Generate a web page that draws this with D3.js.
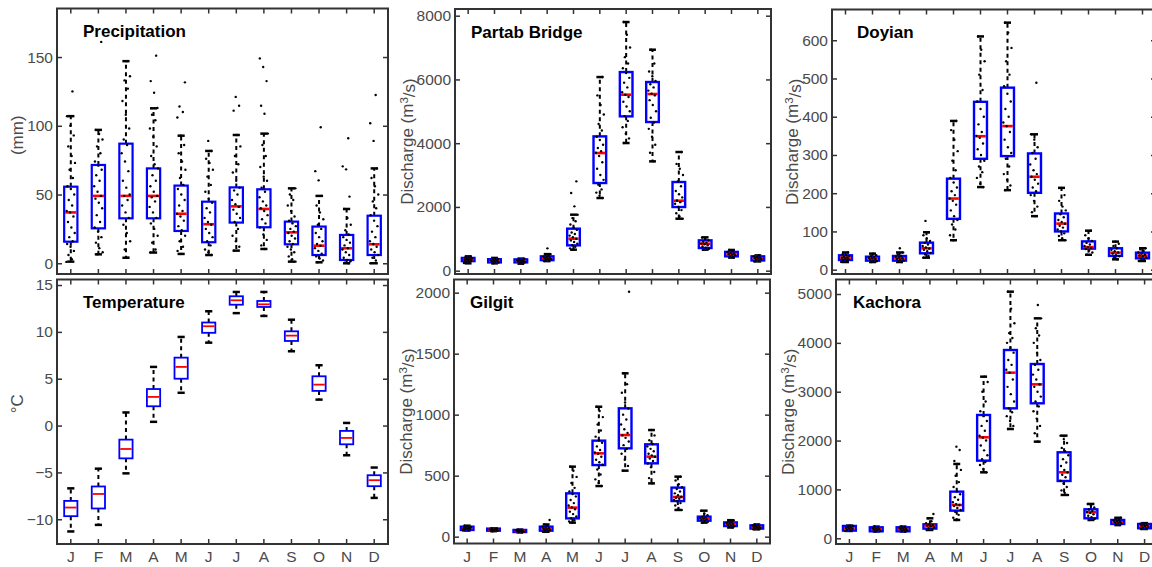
<!DOCTYPE html>
<html>
<head>
<meta charset="utf-8">
<script src="https://cdn.jsdelivr.net/npm/d3@7"></script>
<style>
  body { margin: 0; background: #fff; }
  svg { display: block; font-family: "Liberation Sans", Arial, Helvetica, sans-serif; }
</style>
</head>
<body>
<div id="viz"></div>
<script>
const width = 1152;
const height = 567;

const months = ['J', 'F', 'M', 'A', 'M', 'J', 'J', 'A', 'S', 'O', 'N', 'D'];

// box stats per month: [whisker low, q1, median, q3, whisker high]
const precipBox = [
  [1.2, 15.7, 37, 55.7, 107], [6.5, 25.4, 49, 71.5, 97], [4, 32.7, 49, 87, 147],
  [7.8, 32.7, 49, 69, 112.7], [6.8, 23.5, 36, 56.5, 92.8], [6, 15.3, 28.4, 44.8, 81.7],
  [9.2, 29.6, 41.4, 55.2, 93.3], [10.4, 26.2, 39.5, 53.8, 94.3], [1.2, 13.8, 22.5, 30.3, 54.5],
  [0.7, 6, 12.8, 26.7, 49], [0, 2.4, 10.9, 20.6, 39.5], [0, 6, 13.8, 34.6, 69]
];
const tempBox = [
  [-11.3, -9.67, -8.75, -8.04, -6.7], [-10.6, -8.85, -7.3, -6.5, -4.6], [-5.1, -3.5, -2.5, -1.5, 1.4],
  [0.4, 2.06, 3.06, 3.9, 6.26], [3.5, 5.0, 6.26, 7.25, 9.46], [8.85, 9.9, 10.6, 11.0, 12.2],
  [12.0, 12.9, 13.37, 13.8, 14.26], [11.7, 12.66, 12.94, 13.3, 14.26], [7.93, 9.03, 9.6, 10.06, 11.3],
  [2.77, 3.7, 4.37, 5.26, 6.44], [-3.17, -2.0, -1.32, -0.57, 0.28], [-7.72, -6.47, -5.83, -5.3, -4.48]
];
const partabBox = [
  [230, 300, 350, 400, 450], [230, 260, 310, 360, 400], [220, 260, 305, 355, 380],
  [300, 330, 385, 450, 520], [659, 795, 1004, 1318, 1757], [2280, 2750, 3691, 4214, 6075],
  [4005, 4842, 5521, 6232, 7801], [3430, 4664, 5542, 5919, 6933], [1631, 1997, 2196, 2782, 3723],
  [659, 711, 847, 952, 1046], [410, 450, 523, 590, 650], [290, 320, 387, 450, 480]
];
const doyianBox = [
  [20, 25.3, 31.4, 37.6, 45], [20, 23.6, 29.7, 34, 42], [20, 23.6, 29.7, 35.8, 45],
  [31.4, 42.8, 56, 70.7, 97.8], [77, 133, 186, 238, 389], [216, 290, 349, 439, 610],
  [208, 297, 375.5, 476, 646], [140, 201, 243, 304, 354], [77, 100, 120.5, 147, 214],
  [39, 55, 59, 74, 102], [27, 36, 44.5, 56, 73.4], [22.7, 29.7, 36.7, 44.5, 56]
];
const gilgitBox = [
  [50, 55, 68, 82, 90], [45, 49, 57, 66, 68], [35, 38, 46, 55, 58],
  [40, 49, 66, 82, 100], [115, 150, 238, 355, 574], [415, 587, 683, 787, 1065],
  [541, 724, 833, 1052, 1339], [437, 601, 656, 757, 874], [219, 292, 325, 402, 492],
  [115, 131, 148, 164, 213], [75, 87, 104, 117, 135], [60, 66, 76, 93, 100]
];
const kachoraBox = [
  [150, 157, 205, 252, 260], [140, 143, 191, 225, 240], [140, 143, 191, 225, 240],
  [170, 198, 259, 286, 409], [375, 566, 682, 955, 1521], [1350, 1589, 2067, 2524, 3308],
  [2237, 2660, 3390, 3854, 5048], [1978, 2763, 3151, 3567, 4502], [887, 1173, 1351, 1760, 2101],
  [375, 409, 532, 593, 703], [270, 293, 327, 375, 420], [190, 205, 252, 293, 310]
];

// individual observations shown as dots, per month
const precipDots = [
  [1, 3, 6, 9, 12, 14, 16, 19, 22, 26, 30, 34, 37, 38, 42, 46, 50, 54, 56, 62, 68, 73, 78, 85, 93, 100, 107, 125],
  [6.5, 8, 11, 15, 19, 23, 26, 30, 35, 40, 44, 47, 49, 52, 56, 60, 64, 68, 71, 74, 80, 85, 90, 94, 97, 161],
  [4, 10, 16, 22, 28, 33, 37, 42, 46, 49, 50, 55, 60, 67, 74, 80, 86, 90, 98, 108, 118, 127, 133, 136, 147],
  [7.8, 10, 15, 20, 25, 29, 33, 37, 41, 45, 48, 49, 52, 56, 60, 64, 69, 72, 78, 85, 92, 98, 104, 108, 113, 124, 132.5, 151],
  [6.8, 9, 12, 16, 20, 24, 27, 31, 34, 36, 38, 42, 46, 50, 54, 57, 62, 68, 74, 80, 86, 92.8, 106, 110, 114, 131.6],
  [6, 8, 10, 13, 16, 19, 22, 25, 28, 30, 33, 37, 40, 44, 47, 52, 57, 63, 68, 73, 76, 81.7, 89],
  [9.2, 12, 16, 20, 25, 30, 33, 36, 39, 41, 43, 46, 50, 53, 55, 60, 66, 72, 78, 85, 93.3, 111, 114.6, 121],
  [10.4, 13, 17, 21, 26, 29, 32, 35, 38, 40, 42, 45, 48, 52, 55, 60, 63, 70, 78, 86, 94.3, 108.8, 114.6, 132.5, 142.7, 149],
  [1.2, 3, 5, 8, 10, 12, 14, 16, 18, 20, 22, 23, 25, 27, 29, 31, 34, 38, 42, 46, 50, 54.5],
  [0.7, 2, 3.5, 5, 7, 9, 11, 12.8, 14, 16, 19, 22, 25, 28, 32, 37, 42, 49, 60.3, 67, 98.9],
  [0, 0.5, 1.5, 2.5, 4, 6, 8, 10, 11, 13, 15, 17, 19, 21, 24, 28, 33, 39.5, 48.5, 68.3, 70.5, 90.9],
  [0, 2, 4, 6, 8, 10, 12, 14, 16, 19, 23, 27, 31, 35, 40, 45, 50, 56, 62, 69, 89, 101.8, 122.4]
];
const partabDots = [
  [240, 270, 290, 310, 330, 345, 355, 365, 380, 395, 420, 445],
  [235, 255, 270, 290, 305, 315, 325, 340, 355, 370, 390],
  [225, 245, 265, 280, 295, 305, 315, 330, 345, 360, 378],
  [305, 325, 345, 360, 375, 390, 405, 420, 440, 470, 500, 520, 700],
  [660, 700, 750, 800, 850, 900, 950, 1000, 1050, 1100, 1150, 1200, 1280, 1350, 1450, 1550, 1650, 1757, 2018, 2437, 2802],
  [2280, 2350, 2450, 2550, 2700, 2850, 3000, 3200, 3400, 3600, 3700, 3750, 3850, 3950, 4100, 4200, 4400, 4600, 4900, 5200, 5500, 6075],
  [4005, 4150, 4300, 4500, 4700, 4850, 5000, 5150, 5300, 5450, 5520, 5600, 5750, 5900, 6050, 6200, 6350, 6500, 6700, 7000, 7400, 7801],
  [3430, 3700, 3950, 4200, 4450, 4650, 4800, 5000, 5200, 5350, 5500, 5550, 5650, 5750, 5850, 5950, 6100, 6250, 6500, 6933],
  [1631, 1700, 1800, 1900, 2000, 2100, 2150, 2200, 2300, 2400, 2500, 2650, 2800, 3000, 3200, 3350, 3723],
  [660, 690, 720, 760, 800, 830, 850, 880, 910, 950, 990, 1040],
  [420, 450, 480, 500, 520, 540, 560, 590, 620, 650],
  [290, 320, 340, 360, 380, 395, 410, 430, 450, 480]
];
const doyianDots = [
  [20, 23, 25, 27, 29, 31, 32, 34, 36, 38, 41, 45],
  [20, 22, 24, 26, 28, 30, 31, 33, 35, 38, 42],
  [20, 22, 24, 26, 28, 30, 32, 34, 36, 40, 45, 56],
  [31.4, 36, 40, 44, 48, 52, 55, 58, 62, 66, 70, 75, 82, 90, 97.8, 127.5],
  [77, 90, 105, 118, 130, 140, 155, 170, 180, 186, 195, 205, 215, 228, 240, 260, 285, 310, 340, 365, 389],
  [216, 225, 240, 255, 270, 285, 300, 315, 330, 345, 350, 360, 380, 400, 420, 440, 470, 510, 545, 575, 610],
  [208, 220, 235, 250, 270, 290, 305, 320, 340, 360, 375, 385, 400, 420, 440, 460, 480, 510, 545, 580, 620, 646],
  [140, 150, 165, 180, 195, 205, 215, 225, 235, 243, 250, 260, 275, 290, 305, 320, 340, 354, 489],
  [77, 82, 88, 95, 100, 105, 110, 115, 120, 125, 130, 137, 145, 155, 165, 180, 195, 214],
  [39, 45, 50, 54, 57, 59, 62, 66, 70, 75, 82, 90, 102],
  [27, 31, 35, 38, 42, 45, 48, 52, 56, 62, 68, 73],
  [22.7, 26, 29, 32, 35, 37, 39, 42, 45, 49, 53, 56]
];
const gilgitDots = [
  [50, 54, 58, 62, 66, 69, 72, 76, 80, 85, 90],
  [45, 48, 51, 54, 56, 58, 60, 62, 65, 68],
  [35, 38, 41, 44, 46, 48, 50, 53, 55, 58],
  [40, 45, 50, 55, 60, 65, 70, 75, 82, 90, 100, 137],
  [115, 125, 135, 150, 165, 185, 205, 225, 240, 255, 275, 300, 330, 350, 370, 400, 440, 490, 540, 574],
  [415, 440, 470, 510, 550, 590, 610, 630, 655, 680, 690, 710, 740, 770, 790, 820, 870, 920, 980, 1030, 1065],
  [541, 580, 630, 680, 720, 750, 780, 810, 830, 850, 880, 920, 960, 1000, 1050, 1100, 1180, 1250, 1339, 2008],
  [437, 480, 530, 570, 600, 620, 640, 655, 665, 680, 700, 720, 740, 760, 790, 830, 874],
  [219, 235, 255, 275, 290, 300, 310, 320, 328, 340, 355, 370, 390, 405, 430, 460, 492],
  [115, 122, 130, 136, 142, 148, 153, 158, 164, 175, 190, 213],
  [75, 80, 86, 92, 98, 103, 108, 113, 118, 125, 135],
  [60, 63, 67, 71, 75, 78, 82, 87, 92, 96, 100]
];
const kachoraDots = [
  [150, 160, 175, 190, 200, 210, 220, 235, 250, 260],
  [140, 150, 165, 180, 190, 200, 210, 222, 240],
  [140, 148, 160, 175, 188, 195, 205, 215, 228, 240],
  [170, 190, 205, 225, 245, 260, 270, 285, 310, 350, 409, 498],
  [375, 420, 480, 540, 580, 620, 660, 680, 700, 740, 790, 840, 900, 960, 1050, 1150, 1280, 1400, 1521, 1583, 1808, 1876],
  [1350, 1420, 1500, 1560, 1620, 1700, 1800, 1900, 2000, 2060, 2100, 2200, 2300, 2400, 2500, 2600, 2800, 3000, 3200, 3308],
  [2237, 2300, 2400, 2500, 2580, 2660, 2800, 2950, 3100, 3250, 3390, 3450, 3550, 3650, 3800, 3900, 4000, 4100, 4200, 4400, 4700, 5048],
  [1978, 2150, 2300, 2450, 2600, 2700, 2800, 2900, 3000, 3100, 3150, 3250, 3350, 3450, 3550, 3650, 3800, 4000, 4150, 4300, 4502, 4775],
  [887, 930, 980, 1050, 1120, 1180, 1250, 1300, 1350, 1400, 1480, 1550, 1620, 1700, 1780, 1850, 1950, 2030, 2101],
  [375, 400, 430, 460, 490, 520, 540, 560, 590, 630, 670, 703],
  [270, 285, 300, 315, 325, 335, 350, 365, 380, 400, 420],
  [190, 205, 220, 235, 250, 260, 270, 285, 300, 310]
];

const precipTicks = [0, 50, 100, 150];
const tempTicks = [-10, -5, 0, 5, 10, 15];
const partabTicks = [0, 2000, 4000, 6000, 8000];
const doyianTicks = [0, 100, 200, 300, 400, 500, 600];
const gilgitTicks = [0, 500, 1000, 1500, 2000];
const kachoraTicks = [0, 1000, 2000, 3000, 4000, 5000];

const discharge = ['Discharge (m', '3', '/s)'];

const panels = [
  { title: 'Precipitation', ylabel: ['(mm)'], box: precipBox, dots: precipDots, ticks: precipTicks,
    domain: [-7.8, 185.3], x0: 57, x1: 388, y0: 8.5, y1: 274, titleDx: 26, labelDy: -6, months: false, boxW: 2.2 },
  { title: 'Partab Bridge', ylabel: discharge, box: partabBox, dots: partabDots, ticks: partabTicks,
    domain: [-104, 8210], x0: 455, x1: 771, y0: 9, y1: 274, titleDx: 16, labelDy: 0, months: false, boxW: 2.4 },
  { title: 'Doyian', ylabel: discharge, box: doyianBox, dots: doyianDots, ticks: doyianTicks,
    domain: [-11.3, 680.4], x0: 832, x1: 1156, y0: 9.5, y1: 274, titleDx: 25, labelDy: 0, months: false, boxW: 2.4 },
  { title: 'Temperature', ylabel: ['°C'], box: tempBox, dots: null, ticks: tempTicks,
    domain: [-12.64, 15.59], x0: 57, x1: 388, y0: 279.5, y1: 544, titleDx: 26, labelDy: -8, months: true, boxW: 1.8 },
  { title: 'Gilgit', ylabel: discharge, box: gilgitBox, dots: gilgitDots, ticks: gilgitTicks,
    domain: [-56, 2108], x0: 454, x1: 770, y0: 279.5, y1: 543.5, titleDx: 16, labelDy: 0, months: true, boxW: 2.4 },
  { title: 'Kachora', ylabel: discharge, box: kachoraBox, dots: kachoraDots, ticks: kachoraTicks,
    domain: [-117, 5297], x0: 836, x1: 1158, y0: 279.5, y1: 544, titleDx: 17, labelDy: 0, months: true, boxW: 2.4 }
];

const svg = d3.select('#viz').append('svg')
  .attr('width', width)
  .attr('height', height);

const tickColor = '#333';
const textColor = '#4a4a4a';

panels.forEach(p => {
  const x = d3.scaleBand().domain(d3.range(12)).range([p.x0, p.x1]);
  const y = d3.scaleLinear().domain(p.domain).range([p.y1, p.y0]);
  const bw = x.bandwidth();
  const cx = i => x(i) + bw / 2;
  const boxWidth = bw * 0.48;
  const capWidth = bw * 0.26;

  const g = svg.append('g');

  // axes: inward ticks on all four sides
  const left = g.append('g')
    .attr('transform', `translate(${p.x0},0)`)
    .call(d3.axisLeft(y).tickValues(p.ticks).tickFormat(d3.format('d'))
      .tickSizeInner(-5).tickSizeOuter(0).tickPadding(4));
  g.append('g')
    .attr('transform', `translate(${p.x1},0)`)
    .call(d3.axisRight(y).tickValues(p.ticks).tickSizeInner(-5).tickSizeOuter(0).tickFormat(''));
  g.append('g')
    .attr('transform', `translate(0,${p.y1})`)
    .call(d3.axisBottom(x).tickSizeInner(-5).tickSizeOuter(0).tickPadding(7)
      .tickFormat(i => p.months ? months[i] : ''));
  g.append('g')
    .attr('transform', `translate(0,${p.y0})`)
    .call(d3.axisTop(x).tickSizeInner(-5).tickSizeOuter(0).tickFormat(''));

  g.selectAll('.domain').remove();
  g.selectAll('.tick line').attr('stroke', tickColor).attr('stroke-width', 1.5);
  g.selectAll('.tick text')
    .attr('fill', textColor)
    .style('font-size', '15.5px')
    .style('font-family', '"Liberation Sans", Arial, sans-serif');

  // y label, placed just left of the widest tick label
  let maxW = 0;
  left.selectAll('.tick text').each(function() { maxW = Math.max(maxW, this.getBBox().width); });
  const lx = p.x0 - 4 - maxW - 3.5;
  const ly = (p.y0 + p.y1) / 2 + p.labelDy;
  const lab = g.append('text')
    .attr('transform', `translate(${lx},${ly}) rotate(-90)`)
    .attr('text-anchor', 'middle')
    .attr('fill', textColor)
    .style('font-size', '17px');
  if (p.ylabel.length === 1) {
    lab.text(p.ylabel[0]);
  } else {
    lab.append('tspan').text(p.ylabel[0]);
    lab.append('tspan').attr('dy', '-0.42em').style('font-size', '11.5px').text(p.ylabel[1]);
    lab.append('tspan').attr('dy', '0.42em').text(p.ylabel[2]);
  }

  // whiskers
  const wh = g.append('g').attr('stroke', '#000');
  p.box.forEach((b, i) => {
    wh.append('line')
      .attr('x1', cx(i)).attr('x2', cx(i))
      .attr('y1', y(b[3])).attr('y2', y(b[4]))
      .attr('stroke-width', 2).attr('stroke-dasharray', '4,3.5');
    wh.append('line')
      .attr('x1', cx(i)).attr('x2', cx(i))
      .attr('y1', y(b[1])).attr('y2', y(b[0]))
      .attr('stroke-width', 2).attr('stroke-dasharray', '4,3.5');
    [b[0], b[4]].forEach(v => {
      wh.append('line')
        .attr('x1', cx(i) - capWidth / 2).attr('x2', cx(i) + capWidth / 2)
        .attr('y1', y(v)).attr('y2', y(v))
        .attr('stroke-width', 2.5);
    });
  });

  // boxes
  g.append('g').selectAll('rect')
    .data(p.box)
    .join('rect')
      .attr('x', (d, i) => cx(i) - boxWidth / 2)
      .attr('width', boxWidth)
      .attr('y', d => y(d[3]))
      .attr('height', d => Math.max(0.5, y(d[1]) - y(d[3])))
      .attr('fill', 'none')
      .attr('stroke', '#0000ff')
      .attr('stroke-width', p.boxW);

  // medians
  g.append('g').selectAll('line')
    .data(p.box)
    .join('line')
      .attr('x1', (d, i) => cx(i) - boxWidth / 2 + p.boxW / 2)
      .attr('x2', (d, i) => cx(i) + boxWidth / 2 - p.boxW / 2)
      .attr('y1', d => y(d[2]))
      .attr('y2', d => y(d[2]))
      .attr('stroke', '#ff0000')
      .attr('stroke-width', p.boxW === 1.8 ? 1.8 : 2.6);

  // jittered observations
  if (p.dots) {
    const dg = g.append('g').attr('fill', '#000');
    p.dots.forEach((vals, i) => {
      vals.forEach((v, j) => {
        const off = ((j * 0.618034 + i * 0.37) % 1 - 0.5) * bw * 0.32;
        dg.append('circle')
          .attr('cx', cx(i) + off)
          .attr('cy', y(v))
          .attr('r', 1.2);
      });
    });
  }

  // frame
  g.append('rect')
    .attr('x', p.x0).attr('y', p.y0)
    .attr('width', p.x1 - p.x0).attr('height', p.y1 - p.y0)
    .attr('fill', 'none')
    .attr('stroke', '#333')
    .attr('stroke-width', 2);

  // panel title
  g.append('text')
    .attr('x', p.x0 + p.titleDx)
    .attr('y', p.y0 + 28.5)
    .attr('fill', '#000')
    .style('font-size', '17px')
    .style('font-weight', 'bold')
    .text(p.title);
});
</script>
</body>
</html>
